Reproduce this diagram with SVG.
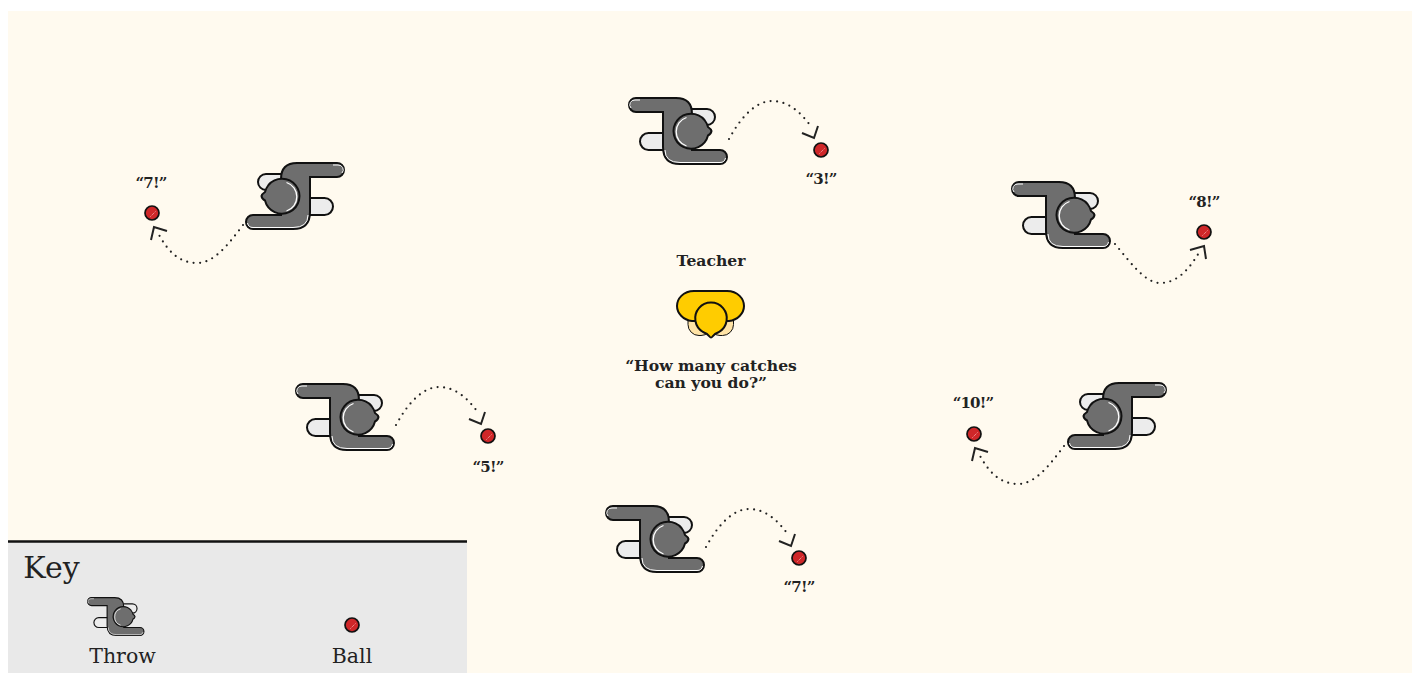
<svg xmlns="http://www.w3.org/2000/svg" width="1419" height="673" viewBox="0 0 1419 673">
<style>
.t{font-family:"DejaVu Serif","Liberation Serif",serif;font-weight:700;font-size:15.600px;fill:#222;text-anchor:middle}
.n{font-family:"DejaVu Serif","Liberation Serif",serif;font-weight:700;font-size:15px;letter-spacing:-.8px;fill:#222;text-anchor:middle}
.k{font-family:"DejaVu Serif","Liberation Serif",serif;font-size:20.500px;fill:#222;text-anchor:middle}
.dot{fill:none;stroke:#222;stroke-width:2.200;stroke-dasharray:0 6.500;stroke-linecap:round}
.head{fill:none;stroke:#222;stroke-width:2}
</style>
<defs>
<g id="player">
<rect x="640" y="133" width="40" height="17" rx="8.500" fill="#ececec" stroke="#111" stroke-width="2"/>
<rect x="675" y="109" width="40" height="16" rx="8" fill="#ececec" stroke="#111" stroke-width="2"/>
<path d="M636 98H676Q692 98 692 114V150H720A7 7 0 0 1 720 164H680Q663 164 663 147V112H636A7 7 0 0 1 636 98Z" fill="#6e6e6e" stroke="#111" stroke-width="2"/>
<path d="M640 100H635A4.800 4.800 0 0 0 631 108M665 150Q665 162.500 680 162.500H720A5.500 5.500 0 0 0 725.500 158" fill="none" stroke="#fff" stroke-width="1"/>
<path d="M704.500 120Q707.500 124 708 127Q711 129 711.500 131Q711 134 708 135.500A17.500 17.500 0 1 1 704.500 120Z" fill="#6e6e6e" stroke="#111" stroke-width="2"/>
<path d="M686.500 117.500A15 15 0 0 0 686.500 146" fill="none" stroke="#fff" stroke-width="1.300"/>
</g>
<g id="ball">
<circle r="7" fill="#cf2729" stroke="#111" stroke-width="1.700"/>
<path d="M-1.500 3.500L3.500 -1.500" stroke="#f6b5b5" stroke-width="1" stroke-dasharray="1 1"/>
</g>
<g id="dots">
<path class="dot" d="M729 139C742 115 757 101 772 101C790 101 803 115 812 128"/>
<path class="head" d="M802 133L814 138L818 126"/>
</g>
<g id="dots-left">
<path class="dot" d="M243 225C228 245 214 263 197 263C178 263 167 250 158 233"/>
<path class="head" d="M167 231L154 227L151 240"/>
</g>
</defs>
<rect width="1419" height="673" fill="#fff"/>
<rect x="8" y="11" width="1404" height="662" fill="#fffaef"/>
<g id="key-panel">
<rect x="8" y="541" width="459" height="132" fill="#e9e9e9"/>
<path d="M8 541.500H467" stroke="#111" stroke-width="2.500"/>
<text x="51.500" y="578" class="k" style="font-size:30px">Key</text>
<text x="122.500" y="663" class="k">Throw</text>
<text x="352" y="663" class="k">Ball</text>
</g>
<g id="connectors">
<use href="#dots"/>
<use href="#dots-left"/>
<path class="dot" d="M1115 244C1130 262 1145 283 1160 283C1178 283 1190 268 1200 251"/>
<path class="head" d="M1190 250L1204 246L1206 259"/>
<use href="#dots" transform="translate(-333 286)"/>
<use href="#dots" transform="translate(-23 408)"/>
<use href="#dots-left" transform="translate(821 221)"/>
</g>
<g id="player-1"><use href="#player" transform="translate(973 65) scale(-1 1)"/></g>
<g id="player-2"><use href="#player"/></g>
<g id="player-3"><use href="#player" transform="translate(383 84)"/></g>
<g id="player-4"><use href="#player" transform="translate(-333 286)"/></g>
<g id="player-5"><use href="#player" transform="translate(-23 408)"/></g>
<g id="player-6"><use href="#player" transform="translate(1795 285) scale(-1 1)"/></g>
<g id="key-throw"><use href="#player" transform="translate(87 597) scale(.575) translate(-628 -97)"/></g>
<g id="ball-1"><use href="#ball" x="152" y="213"/></g>
<g id="ball-2"><use href="#ball" x="821" y="150"/></g>
<g id="ball-3"><use href="#ball" x="1204" y="232"/></g>
<g id="ball-4"><use href="#ball" x="488" y="436"/></g>
<g id="ball-5"><use href="#ball" x="974" y="434"/></g>
<g id="ball-6"><use href="#ball" x="799" y="558"/></g>
<g id="ball-key"><use href="#ball" x="352" y="625"/></g>
<g id="teacher">
<rect x="688" y="308" width="24" height="27.500" rx="11" fill="#ffe3a6" stroke="#111" stroke-width="1"/>
<rect x="709" y="308" width="24.500" height="27.500" rx="11" fill="#ffe3a6" stroke="#111" stroke-width="1"/>
<path d="M694 291H727C738 291 744 299 744 306C744 313 738 320 729 321H692C683 320 677 313 677 306C677 299 683 291 694 291Z" fill="#ffcc00" stroke="#111" stroke-width="2"/>
<path d="M703 332A15.800 15.800 0 1 1 719 332Q714.500 333.500 712.500 336.500Q711 338.500 709.500 336.500Q707.500 333.500 703 332Z" fill="#ffcc00" stroke="#111" stroke-width="2"/>
</g>
<g id="labels">
<text x="711" y="265.500" class="t">Teacher</text>
<text x="711" y="371" class="t">“How many catches</text>
<text x="711" y="388" class="t">can you do?”</text>
<text x="151" y="188" class="n">“7!”</text>
<text x="821" y="184" class="n">“3!”</text>
<text x="1204" y="207" class="n">“8!”</text>
<text x="488" y="472" class="n">“5!”</text>
<text x="973" y="408" class="n">“10!”</text>
<text x="799" y="592" class="n">“7!”</text>
</g>
</svg>
